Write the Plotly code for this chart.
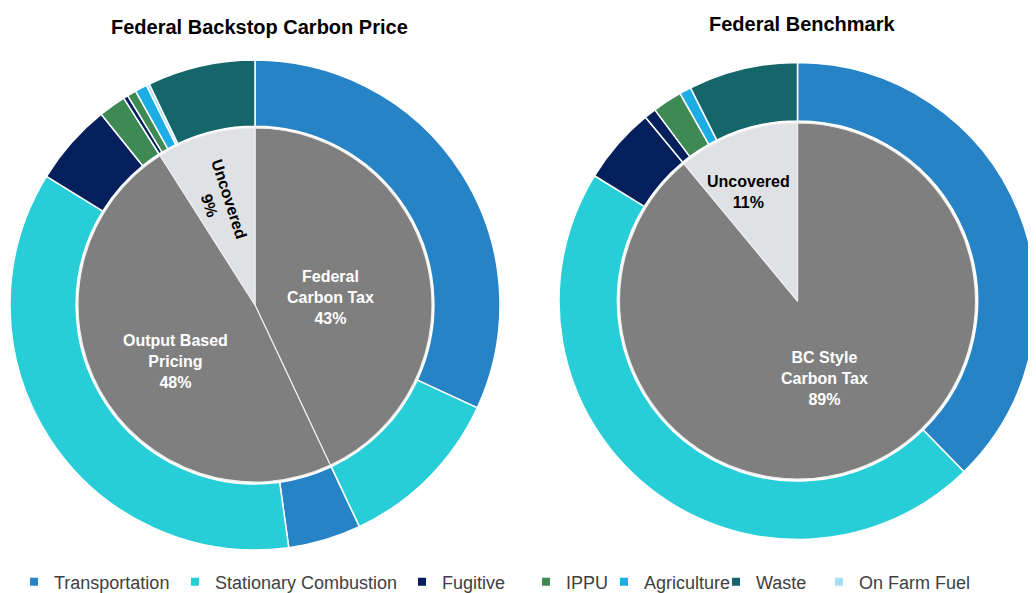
import plotly.graph_objects as go

# inner rings: coverage
left_inner_labels = ["Federal Carbon Tax", "Output Based Pricing", "Uncovered"]
left_inner_values = [43, 48, 9]
left_inner_text = ["Federal<br>Carbon Tax<br>43%", "Output Based<br>Pricing<br>48%", "Uncovered<br>9%"]

right_inner_labels = ["BC Style Carbon Tax", "Uncovered"]
right_inner_values = [89, 11]
right_inner_text = ["BC Style<br>Carbon Tax<br>89%", "Uncovered<br>11%"]

# outer rings: emissions by sector inside each coverage slice (clockwise from 12 o'clock)
left_outer_sectors = ["Transportation", "Stationary Combustion",
                      "Transportation", "Stationary Combustion", "Fugitive", "IPPU",
                      "Fugitive", "IPPU", "Agriculture", "On Farm Fuel", "Waste"]
left_outer_values = [31.9, 11.1, 4.8, 36.0, 5.4, 1.8, 0.3, 0.6, 0.8, 0.2, 7.1]

right_outer_sectors = ["Transportation", "Stationary Combustion", "Fugitive",
                       "Fugitive", "IPPU", "Agriculture", "Waste"]
right_outer_values = [37.7, 46.1, 5.2, 0.8, 2.0, 0.8, 7.4]

sectors = ["Transportation", "Stationary Combustion", "Fugitive",
           "IPPU", "Agriculture", "Waste", "On Farm Fuel"]
sector_colors = {
    "Transportation": "#2683C6",
    "Stationary Combustion": "#27CED7",
    "Fugitive": "#031F5C",
    "IPPU": "#3E8A55",
    "Agriculture": "#1CADE4",
    "Waste": "#14666B",
    "On Farm Fuel": "#A8DCF3",
}
# where each legend entry's text starts (screen px), as in the original
legend_text_x = [55, 216, 443, 567, 645, 757, 860]

# label placement inside the coverage pies (screen px) and rotation
left_label_pos = [(330, 297, 0), (175, 361, 0), (219, 202, 72)]
right_label_pos = [(824, 378, 0), (748, 192, 0)]

covered_color = "#7F7F7F"
uncovered_color = "#DFE1E4"

FONT = "Liberation Sans, Arial, sans-serif"
# the page body has an 8px margin, so the figure is sized to the visible area
OFF = 8
W, H = 1036 - OFF, 593 - OFF

LEFT_C = (255, 305)
RIGHT_C = (797.5, 301)


def sx(x):
    return (x - OFF) / W


def sy(y):
    return 1 - (y - OFF) / H


def px_dom(c, r):
    cx, cy = c
    return dict(x=[max(sx(cx - r), 0), min(sx(cx + r), 1)],
                y=[max(sy(cy + r), 0), min(sy(cy - r), 1)])


def inner_colors(labels):
    return [uncovered_color if l == "Uncovered" else covered_color for l in labels]


def text_colors(labels):
    return ["black" if l == "Uncovered" else "white" for l in labels]


fig = go.Figure()


def add_chart(center, r_out, hole, r_in, sec, vals, in_labels, in_vals):
    fig.add_trace(go.Pie(
        labels=[f"{s} #{i}" for i, s in enumerate(sec)],
        values=vals,
        marker=dict(colors=[sector_colors[s] for s in sec],
                    line=dict(color="white", width=1.5)),
        hole=hole, sort=False, direction="clockwise", rotation=0,
        textinfo="none", hoverinfo="skip", showlegend=False,
        domain=px_dom(center, r_out),
    ))
    fig.add_trace(go.Pie(
        labels=in_labels, values=in_vals,
        marker=dict(colors=inner_colors(in_labels),
                    line=dict(color="#EEEEEE", width=1.2)),
        sort=False, direction="clockwise", rotation=0,
        textinfo="none", hoverinfo="skip", showlegend=False,
        domain=px_dom(center, r_in),
    ))


add_chart(LEFT_C, 245, 0.73, 177, left_outer_sectors, left_outer_values,
          left_inner_labels, left_inner_values)
add_chart(RIGHT_C, 238.5, 0.755, 178, right_outer_sectors, right_outer_values,
          right_inner_labels, right_inner_values)

# slice labels
for labels, texts, pos in [(left_inner_labels, left_inner_text, left_label_pos),
                           (right_inner_labels, right_inner_text, right_label_pos)]:
    for lab, txt, (x, y, ang), col in zip(labels, texts, pos, text_colors(labels)):
        fig.add_annotation(text=f"<b>{txt}</b>", x=sx(x), y=sy(y),
                           xref="paper", yref="paper", xanchor="center", yanchor="middle",
                           showarrow=False, textangle=ang,
                           font=dict(family=FONT, size=16, color=col))

# legend: one small legend per entry so spacing follows the original
legend_layouts = {}
for i, s in enumerate(sectors):
    key = "legend" if i == 0 else f"legend{i + 1}"
    fig.add_trace(go.Scatter(
        x=[None], y=[None], mode="markers", name=s,
        marker=dict(symbol="square", size=8, color=sector_colors[s]),
        legend=key,
    ))
    legend_layouts[key] = dict(
        orientation="h", x=sx(legend_text_x[i] - 41), xanchor="left",
        y=sy(582), yanchor="middle",
        bgcolor="rgba(0,0,0,0)", itemclick=False, itemdoubleclick=False,
        font=dict(family=FONT, size=18, color="#404040"),
    )

# titles
fig.add_annotation(text="<b>Federal Backstop Carbon Price</b>", x=sx(259), y=sy(27),
                   xref="paper", yref="paper", xanchor="center", yanchor="middle",
                   showarrow=False, font=dict(family=FONT, size=20, color="black"))
fig.add_annotation(text="<b>Federal Benchmark</b>", x=sx(802), y=sy(24),
                   xref="paper", yref="paper", xanchor="center", yanchor="middle",
                   showarrow=False, font=dict(family=FONT, size=20, color="black"))

fig.update_layout(
    width=W, height=H,
    margin=dict(l=0, r=0, t=0, b=0, autoexpand=False),
    paper_bgcolor="white", plot_bgcolor="white",
    xaxis=dict(visible=False), yaxis=dict(visible=False),
    **legend_layouts,
)

fig.write_html("out.html")
